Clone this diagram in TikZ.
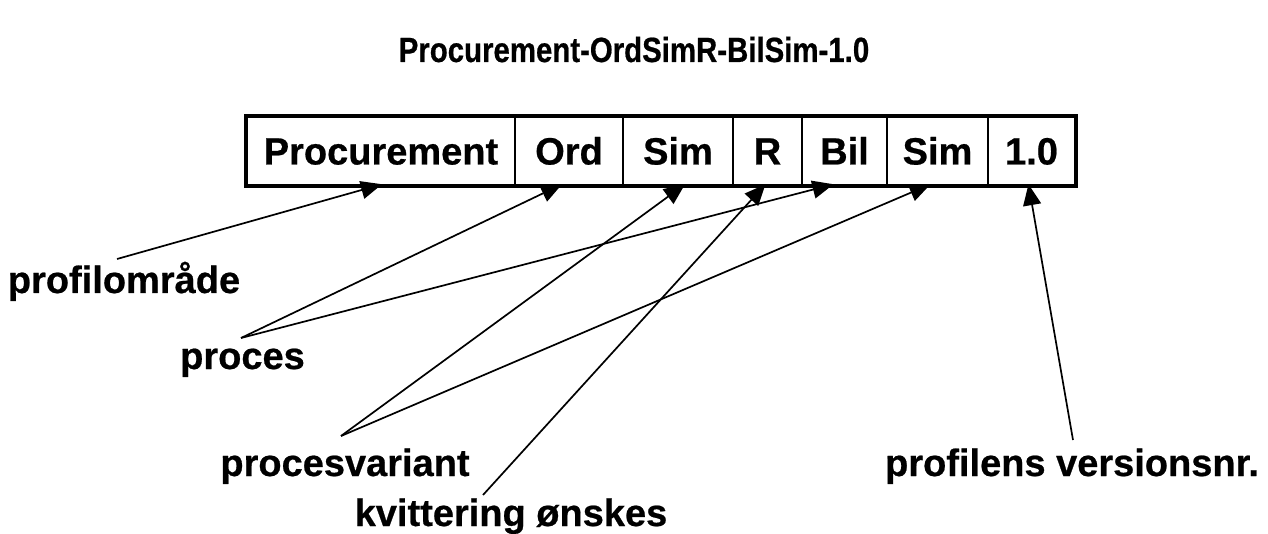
\documentclass[tikz,border=0pt]{standalone}
\usepackage{fontspec}
\setmainfont{Liberation Sans}[BoldFeatures={FakeBold=0.6}]
\usetikzlibrary{arrows.meta}
\begin{document}
\begin{tikzpicture}[x=1pt,y=-1pt,
  cell/.style={draw=black,line width=2.5pt,inner sep=0pt,minimum height=68pt,
    font=\fontsize{38}{40}\selectfont\bfseries,text height=27pt,text depth=0pt},
  lbl/.style={inner sep=0pt,anchor=base,font=\fontsize{38}{40}\selectfont\bfseries},
  arr/.style={line width=1.7pt,-{Triangle[length=21pt,width=18pt]}}]
\useasboundingbox (0,0) rectangle (1268,534);
% title
\node[inner sep=0pt,anchor=base,font=\fontsize{35}{38}\selectfont\bfseries] (title) at (634,62) {\scalebox{0.84}[1]{Procurement-OrdSimR-BilSim-1.0}};
% cells
\node[cell,minimum width=268pt] (c1) at (381,151) {Procurement};
\node[cell,minimum width=108pt] (c2) at (569,151) {Ord};
\node[cell,minimum width=110pt] (c3) at (678,151) {Sim};
\node[cell,minimum width=69pt] (c4) at (767.5,151) {R};
\node[cell,minimum width=85pt] (c5) at (844.5,151) {Bil};
\node[cell,minimum width=101pt] (c6) at (937.5,151) {Sim};
\node[cell,minimum width=87pt] (c7) at (1031.5,151) {1.0};
\draw[line width=3.5pt] (c1.north west) rectangle (c7.south east);
% labels
\node[lbl] (l1) at (124,293) {profilområde};
\node[lbl] (l2) at (242.5,369) {proces};
\node[lbl] (l3) at (345,476) {procesvariant};
\node[lbl] (l4) at (511,526) {kvittering ønskes};
\node[lbl] (l5) at (1072,476) {profilens versionsnr.};
% connector start points
\coordinate (s1) at (117,259);
\coordinate (s2) at (241,338);
\coordinate (s3) at (341,436);
\coordinate (s4) at (483,495);
\coordinate (s5) at (1073,440);
% arrows
\draw[arr] (s1) -- ([xshift=1pt,yshift=2pt]c1.south);
\draw[arr] (s2) -- ([xshift=-7pt,yshift=2pt]c2.south);
\draw[arr] (s2) -- ([xshift=-11pt,yshift=2pt]c5.south);
\draw[arr] (s3) -- ([xshift=7pt,yshift=2pt]c3.south);
\draw[arr] (s3) -- ([xshift=-7pt,yshift=2pt]c6.south);
\draw[arr] (s4) -- ([xshift=-2pt,yshift=2pt]c4.south);
\draw[arr] (s5) -- ([xshift=-3pt,yshift=2pt]c7.south);
\end{tikzpicture}
\end{document}
